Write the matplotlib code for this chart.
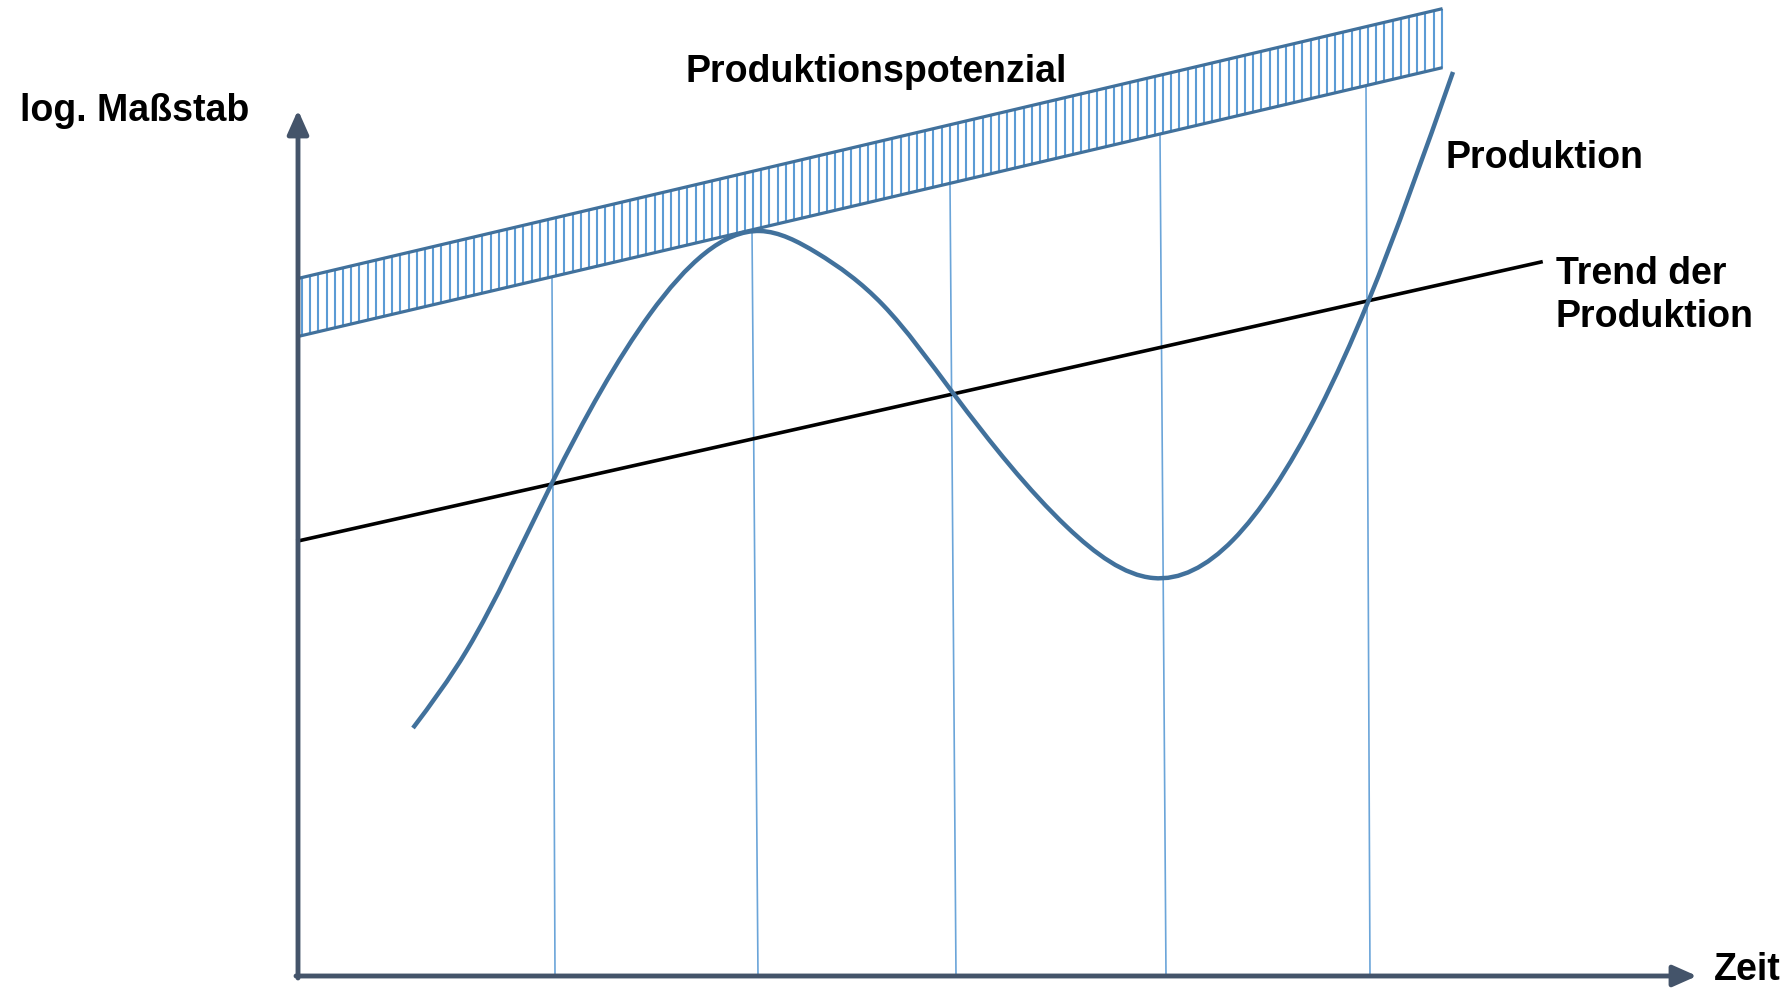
"""
Schematic: Produktion, Trend der Produktion und Produktionspotenzial
(log. Maßstab über Zeit). Drawn in pixel-like coordinates of the
original slide, y axis pointing down.
"""

import numpy as np
import matplotlib.pyplot as plt
from matplotlib.path import Path
from matplotlib.patches import PathPatch

plt.rcParams.update({
    "font.family": ["Liberation Sans", "DejaVu Sans"],
    "font.weight": "bold",
    "figure.facecolor": "white",
})

W, H = 1788, 988

# ─── data (slide pixels) ─────────────────────────────────────────────────────

AXIS_ORIGIN = (298, 976)
AXIS_X_END = 1697
AXIS_Y_END = 110

# Produktionspotenzial band: upper / lower edge
BAND_X = [300, 1441]
BAND_UPPER = [278, 9]
BAND_LOWER = [336, 68]

# Trend der Produktion
TREND_X = [298, 1541]
TREND_Y = [541, 262]

# Produktion (cycle around the trend), points the curve passes through
PROD_X = [413, 467, 552, 650, 760, 817, 883, 953, 1067, 1153, 1233, 1274, 1319, 1368, 1453]
PROD_Y = [728, 650, 483, 314, 231, 253, 305, 393, 527, 578, 540, 488, 410, 302, 72]

# thin guide lines from the band down to the time axis (turning points / crossings)
GUIDE_TOP_X = [552, 752, 950, 1160, 1366]
GUIDE_BOTTOM_X = [555, 758, 956, 1166, 1370]

COLOR_AXIS = "#44546A"
COLOR_LINE = "#41719C"
COLOR_LIGHT = "#5B9BD5"
FS = 27


def band_lower_at(x):
    return np.interp(x, BAND_X, BAND_LOWER)


def band_upper_at(x):
    return np.interp(x, BAND_X, BAND_UPPER)


def smooth_path(xs, ys):
    """Natural cubic spline through the points, drawn as Bezier segments."""
    x = np.asarray(xs, float)
    y = np.asarray(ys, float)
    n = len(x)
    h = np.diff(x)
    d = np.diff(y) / h
    # second derivatives (natural ends)
    A = np.zeros((n, n))
    r = np.zeros(n)
    A[0, 0] = A[-1, -1] = 1.0
    for i in range(1, n - 1):
        A[i, i - 1] = h[i - 1]
        A[i, i] = 2 * (h[i - 1] + h[i])
        A[i, i + 1] = h[i]
        r[i] = 6 * (d[i] - d[i - 1])
    M = np.linalg.solve(A, r)
    m = np.empty(n)
    m[:-1] = d - h * (2 * M[:-1] + M[1:]) / 6
    m[-1] = d[-1] + h[-1] * (M[-2] + 2 * M[-1]) / 6

    verts, codes = [(x[0], y[0])], [Path.MOVETO]
    for i in range(n - 1):
        t = h[i] / 3
        verts += [(x[i] + t, y[i] + m[i] * t),
                  (x[i + 1] - t, y[i + 1] - m[i + 1] * t),
                  (x[i + 1], y[i + 1])]
        codes += [Path.CURVE4] * 3
    return Path(verts, codes)


fig = plt.figure(figsize=(W / 100, H / 100), dpi=100)
ax = fig.add_axes([0, 0, 1, 1])
ax.set_xlim(0, W)
ax.set_ylim(H, 0)
ax.axis("off")

# hatched band
hx = np.arange(BAND_X[0] + 2, BAND_X[1] + 1, 8.2)
ax.vlines(hx, band_upper_at(hx), band_lower_at(hx), color=COLOR_LIGHT,
          linewidth=1.5, zorder=2)
ax.plot(BAND_X, BAND_UPPER, color=COLOR_LINE, linewidth=2.3, zorder=3)
ax.plot(BAND_X, BAND_LOWER, color=COLOR_LINE, linewidth=2.3, zorder=3)

# guide lines
for xt, xb in zip(GUIDE_TOP_X, GUIDE_BOTTOM_X):
    ax.plot([xt, xb], [band_lower_at(xt), AXIS_ORIGIN[1]], color=COLOR_LIGHT,
            linewidth=1.2, alpha=0.9, zorder=1)

# trend and production
ax.plot(TREND_X, TREND_Y, color="black", linewidth=2.6, zorder=4)
ax.add_patch(PathPatch(smooth_path(PROD_X, PROD_Y), facecolor="none",
                       edgecolor=COLOR_LINE, linewidth=3.2, zorder=5,
                       capstyle="butt"))

# axes with arrow heads
arrow = dict(arrowstyle="-|>,head_length=0.9,head_width=0.4", color=COLOR_AXIS,
             linewidth=3.5, shrinkA=0, shrinkB=0, mutation_scale=16)
ax.annotate("", xy=(AXIS_X_END, AXIS_ORIGIN[1]), xytext=(AXIS_ORIGIN[0] - 2, AXIS_ORIGIN[1]),
            arrowprops=arrow, zorder=6)
ax.annotate("", xy=(AXIS_ORIGIN[0], AXIS_Y_END), xytext=(AXIS_ORIGIN[0], AXIS_ORIGIN[1] + 2),
            arrowprops=arrow, zorder=6)

# labels
ax.text(20, 121, "log. Maßstab", fontsize=FS, fontweight="bold", va="baseline")
ax.text(686, 82, "Produktionspotenzial", fontsize=FS, fontweight="bold", va="baseline")
ax.text(1446, 168, "Produktion", fontsize=FS, fontweight="bold", va="baseline")
ax.text(1556, 284, "Trend der", fontsize=FS, fontweight="bold", va="baseline")
ax.text(1556, 327, "Produktion", fontsize=FS, fontweight="bold", va="baseline")
ax.text(1714, 980, "Zeit", fontsize=FS, fontweight="bold", va="baseline")

fig.savefig("out.png", dpi=100, facecolor="white")
